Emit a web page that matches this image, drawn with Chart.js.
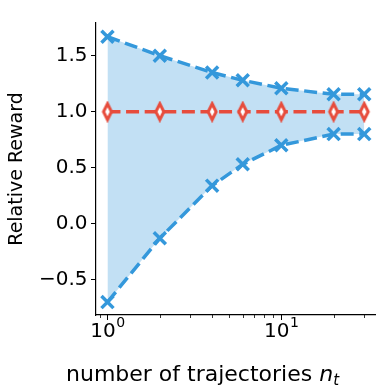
<!DOCTYPE html>
<html>
<head>
<meta charset="utf-8">
<script src="https://cdn.jsdelivr.net/npm/chart.js@4/dist/chart.umd.min.js"></script>
<style>
  html, body { margin: 0; padding: 0; background: #fff; }
  #wrap { width: 387px; height: 387px; }
</style>
</head>
<body>
<div id="wrap"><canvas id="chart" width="387" height="387"></canvas></div>
<script>
// values
const trajectories = [1, 2, 4, 6, 10, 20, 30];
const upperReward = [1.67, 1.50, 1.35, 1.28, 1.21, 1.155, 1.155];
const lowerReward = [-0.70, -0.13, 0.34, 0.53, 0.70, 0.80, 0.80];
const meanReward = [1.0, 1.0, 1.0, 1.0, 1.0, 1.0, 1.0];
const yTicks = [-0.5, 0.0, 0.5, 1.0, 1.5];
const xMajorTicks = [1, 10];
const xMinorTicks = [0.9, 2, 3, 4, 5, 6, 7, 8, 9, 20, 30];

const BLUE = "#3498db";
const RED = "#e74c3c";
const FONT = '"DejaVu Sans", "Liberation Sans", sans-serif';
const DASH = [13, 5.6];

const pts = (ys) => trajectories.map((x, i) => ({ x: x, y: ys[i] }));

// thin diamond marker like matplotlib 'd'
function thinDiamond() {
  const c = document.createElement("canvas");
  c.width = 14;
  c.height = 22;
  const g = c.getContext("2d");
  g.beginPath();
  g.moveTo(7, 3);
  g.lineTo(11, 11);
  g.lineTo(7, 19);
  g.lineTo(3, 11);
  g.closePath();
  g.fillStyle = "#fff";
  g.fill();
  g.lineWidth = 3;
  g.lineJoin = "miter";
  g.strokeStyle = RED;
  g.stroke();
  return c;
}

const decorations = {
  id: "decorations",
  afterDraw(chart) {
    const ctx = chart.ctx;
    const xs = chart.scales.x;
    const area = chart.chartArea;
    ctx.save();
    ctx.strokeStyle = "#000";
    ctx.lineWidth = 1;
    // x tick marks
    xMajorTicks.forEach((v) => {
      const px = Math.round(xs.getPixelForValue(v)) + 0.5;
      ctx.beginPath();
      ctx.moveTo(px, area.bottom);
      ctx.lineTo(px, area.bottom + 5);
      ctx.stroke();
    });
    ctx.lineWidth = 0.8;
    xMinorTicks.forEach((v) => {
      const px = Math.round(xs.getPixelForValue(v)) + 0.5;
      ctx.beginPath();
      ctx.moveTo(px, area.bottom);
      ctx.lineTo(px, area.bottom + 3);
      ctx.stroke();
    });
    // x tick labels 10^n
    ctx.fillStyle = "#000";
    ctx.textBaseline = "alphabetic";
    ctx.textAlign = "left";
    xMajorTicks.forEach((v, i) => {
      const px = xs.getPixelForValue(v);
      ctx.font = "20px " + FONT;
      const w1 = ctx.measureText("10").width;
      ctx.font = "14px " + FONT;
      const w2 = ctx.measureText(String(i)).width;
      const x0 = px - (w1 + w2) / 2;
      ctx.font = "20px " + FONT;
      ctx.fillText("10", x0, 336.5);
      ctx.font = "14px " + FONT;
      ctx.fillText(String(i), x0 + w1 + 0.5, 327);
    });
    // x axis label with italic n_t
    ctx.font = "22px " + FONT;
    const main = "number of trajectories ";
    const wm = ctx.measureText(main).width;
    ctx.font = "italic 22px " + FONT;
    const wn = ctx.measureText("n").width;
    const x0 = 66;
    ctx.font = "22px " + FONT;
    ctx.fillText(main, x0, 381);
    ctx.font = "italic 22px " + FONT;
    ctx.fillText("n", x0 + wm, 381);
    ctx.font = "italic 15px " + FONT;
    ctx.fillText("t", x0 + wm + wn, 385);
    // y axis label
    ctx.translate(17, (area.top + area.bottom) / 2);
    ctx.rotate(-Math.PI / 2);
    ctx.textAlign = "center";
    ctx.textBaseline = "middle";
    ctx.font = "19px " + FONT;
    ctx.fillText("Relative Reward", 0, 0);
    ctx.restore();
  }
};

new Chart(document.getElementById("chart"), {
  type: "line",
  data: {
    datasets: [
      {
        data: pts(meanReward),
        borderColor: RED,
        borderWidth: 3.5,
        borderDash: DASH,
        pointStyle: thinDiamond(),
        pointRadius: 8,
        fill: false
      },
      {
        data: pts(upperReward),
        borderColor: BLUE,
        borderWidth: 3.5,
        borderDash: DASH,
        pointStyle: "crossRot",
        pointRadius: 8.5,
        pointBorderWidth: 3.5,
        pointBorderColor: BLUE,
        fill: false
      },
      {
        data: pts(lowerReward),
        borderColor: BLUE,
        borderWidth: 3.5,
        borderDash: DASH,
        pointStyle: "crossRot",
        pointRadius: 8.5,
        pointBorderWidth: 3.5,
        pointBorderColor: BLUE,
        fill: { target: 1 },
        backgroundColor: "rgba(52,152,219,0.3)"
      }
    ]
  },
  options: {
    responsive: false,
    animation: false,
    layout: { padding: { top: 23, left: 0, right: 0, bottom: 0 } },
    plugins: {
      legend: { display: false },
      tooltip: { enabled: false },
      filler: { propagate: false }
    },
    elements: { line: { tension: 0 } },
    scales: {
      x: {
        type: "logarithmic",
        min: 0.859,
        max: 34.6,
        ticks: { display: false },
        grid: { display: false },
        border: { display: true, color: "#000", width: 1.2 },
        afterFit(scale) { scale.height = 72; }
      },
      y: {
        min: -0.815,
        max: 1.792,
        afterBuildTicks(scale) {
          scale.ticks = yTicks.map((v) => ({ value: v }));
        },
        ticks: {
          color: "#000",
          padding: 3.5,
          font: { family: FONT, size: 20 },
          callback: (v) => (v < 0 ? "\u2212" : "") + Math.abs(v).toFixed(1)
        },
        grid: {
          drawOnChartArea: false,
          drawTicks: true,
          tickLength: 5,
          tickColor: "#000",
          tickWidth: 1
        },
        border: { display: true, color: "#000", width: 1.2 },
        afterFit(scale) { scale.width = 96; }
      }
    }
  },
  plugins: [decorations]
});
</script>
</body>
</html>
